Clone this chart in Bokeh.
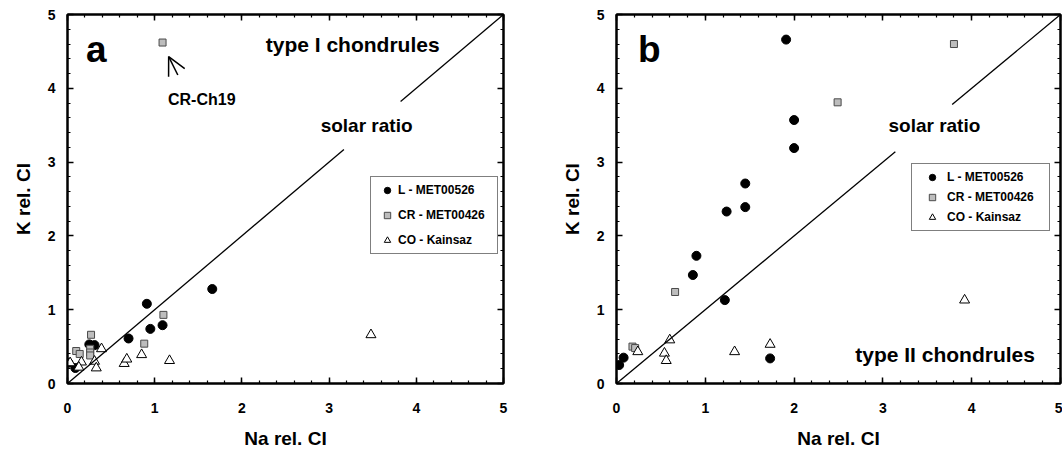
from bokeh.plotting import figure
from bokeh.layouts import row
from bokeh.models import (Range1d, LinearAxis, SingleIntervalTicker, Legend,
                          LegendItem, Arrow, OpenHead)
from bokeh.core.properties import value
from bokeh.embed import file_html
from bokeh.resources import INLINE

FONT = "Liberation Sans"

# ---- panel a: type I chondrules (Na and K normalised to CI) ----
a_L_na = [1.66, 0.91, 0.95, 1.09, 0.70, 0.25, 0.31, 0.01, 0.09]
a_L_k = [1.28, 1.08, 0.74, 0.79, 0.61, 0.53, 0.52, 0.28, 0.21]

a_CR_na = [1.09, 1.10, 0.88, 0.27, 0.26, 0.26, 0.26, 0.10, 0.14]
a_CR_k = [4.62, 0.93, 0.54, 0.66, 0.47, 0.42, 0.38, 0.44, 0.40]

a_CO_na = [0.03, 0.16, 0.13, 0.31, 0.33, 0.39, 0.65, 0.68, 0.85, 1.17, 3.48]
a_CO_k = [0.28, 0.29, 0.22, 0.30, 0.21, 0.47, 0.27, 0.33, 0.39, 0.31, 0.66]

# ---- panel b: type II chondrules ----
b_L_na = [1.91, 2.00, 2.00, 1.45, 1.45, 1.24, 0.90, 0.86, 1.22, 1.73, 0.08, 0.03]
b_L_k = [4.66, 3.57, 3.19, 2.71, 2.39, 2.33, 1.73, 1.47, 1.13, 0.34, 0.35, 0.25]

b_CR_na = [3.80, 2.49, 0.66, 0.18, 0.21]
b_CR_k = [4.60, 3.81, 1.24, 0.50, 0.48]

b_CO_na = [3.92, 1.73, 1.33, 0.60, 0.54, 0.56, 0.24]
b_CO_k = [1.13, 0.53, 0.43, 0.59, 0.41, 0.31, 0.43]

series_labels = ["L - MET00526", "CR - MET00426", "CO - Kainsaz"]
tick_values = [0, 1, 2, 3, 4, 5]


def style_axis(ax, show_labels=True):
    ax.ticker = SingleIntervalTicker(interval=1, num_minor_ticks=5)
    ax.axis_line_width = 2
    ax.axis_line_color = "black"
    ax.major_tick_in = 6
    ax.major_tick_out = 0
    ax.minor_tick_in = 3
    ax.minor_tick_out = 0
    ax.major_tick_line_width = 1.5
    ax.minor_tick_line_width = 1.2
    ax.major_tick_line_color = "black"
    ax.minor_tick_line_color = "black"
    if show_labels:
        ax.major_label_text_font = FONT
        ax.major_label_text_font_style = "bold"
        ax.major_label_text_font_size = "14px"
        ax.major_label_text_color = "black"
        ax.axis_label_text_font = FONT
        ax.axis_label_text_font_style = "bold"
        ax.axis_label_text_font_size = "19px"
        ax.axis_label_text_color = "black"
    else:
        ax.major_label_text_font_size = "0px"
        ax.major_label_text_color = None
        ax.major_label_standoff = 0


def make_panel(width, left, right, L, CR, CO, legend_loc, glyph_w, standoff, label_w, spacing):
    p = figure(width=width, height=451, output_backend="svg", toolbar_location=None,
               x_range=Range1d(0, 5), y_range=Range1d(0, 5),
               min_border_left=left, min_border_right=right,
               min_border_top=14, min_border_bottom=65,
               background_fill_color="white", border_fill_color="white")
    p.grid.visible = False
    p.outline_line_color = "black"
    p.outline_line_width = 2

    style_axis(p.xaxis[0])
    style_axis(p.yaxis[0])
    p.xaxis[0].axis_label = "Na rel. CI"
    p.yaxis[0].axis_label = "K rel. CI"
    p.xaxis[0].major_label_standoff = 19
    p.xaxis[0].axis_label_standoff = 12
    p.yaxis[0].major_label_standoff = 12
    p.yaxis[0].axis_label_standoff = 11

    top = LinearAxis()
    style_axis(top, show_labels=False)
    p.add_layout(top, "above")
    rgt = LinearAxis()
    style_axis(rgt, show_labels=False)
    p.add_layout(rgt, "right")

    rL = p.scatter(L[0], L[1], marker="circle", size=9, fill_color="black",
                   line_color="black")
    rCR = p.scatter(CR[0], CR[1], marker="square", size=7, fill_color="#bdbdbd",
                    line_color="#4a4a4a", line_width=1)
    rCO = p.scatter(CO[0], CO[1], marker="triangle", size=10, fill_color="white",
                    line_color="black", line_width=1)

    legend = Legend(items=[LegendItem(label=series_labels[0], renderers=[rL]),
                           LegendItem(label=series_labels[1], renderers=[rCR]),
                           LegendItem(label=series_labels[2], renderers=[rCO])],
                    location=legend_loc, orientation="vertical",
                    padding=5, margin=0, spacing=spacing,
                    glyph_width=glyph_w, glyph_height=16, label_height=16,
                    label_standoff=standoff, label_width=label_w,
                    label_text_font=FONT, label_text_font_style="bold",
                    label_text_font_size="12px", label_text_color="black",
                    border_line_color="black", border_line_width=1,
                    background_fill_color="white", background_fill_alpha=1)
    p.add_layout(legend, "center")
    return p


def label(p, x, y, txt, size):
    p.text(x=[x], y=[y], text=[txt], text_font=value(FONT), text_font_style="bold",
           text_font_size=size, text_align="center", text_baseline="middle",
           text_color="black")


# panel a
pa = make_panel(530, 67, 27, (a_L_na, a_L_k), (a_CR_na, a_CR_k), (a_CO_na, a_CO_k),
                (303, 129), 22, -2, 94, 9)
pa.line([0, 3.17], [0, 3.17], line_color="black", line_width=1.3)
pa.line([3.82, 5], [3.82, 5], line_color="black", line_width=1.3)
label(pa, 3.43, 3.49, "solar ratio", "19px")
label(pa, 3.27, 4.59, "type I chondrules", "21px")
label(pa, 1.54, 3.85, "CR-Ch19", "16px")
label(pa, 0.33, 4.52, "a", "37px")
pa.add_layout(Arrow(end=OpenHead(size=18, line_width=1.5, line_color="black"),
                    x_start=1.265, y_start=4.18, x_end=1.16, y_end=4.43,
                    line_width=1.5, line_color="black"))

# panel b
pb = make_panel(532, 86, 2, (b_L_na, b_L_k), (b_CR_na, b_CR_k), (b_CO_na, b_CO_k),
                (295, 152), 30, -4, 97, 4)
pb.line([0, 3.14], [0, 3.14], line_color="black", line_width=1.3)
pb.line([3.78, 5], [3.78, 5], line_color="black", line_width=1.3)
label(pb, 3.58, 3.49, "solar ratio", "19px")
label(pb, 3.70, 0.39, "type II chondrules", "21px")
label(pb, 0.37, 4.52, "b", "37px")

layout = row(pa, pb)
open("out.html", "w").write(file_html(layout, INLINE))
